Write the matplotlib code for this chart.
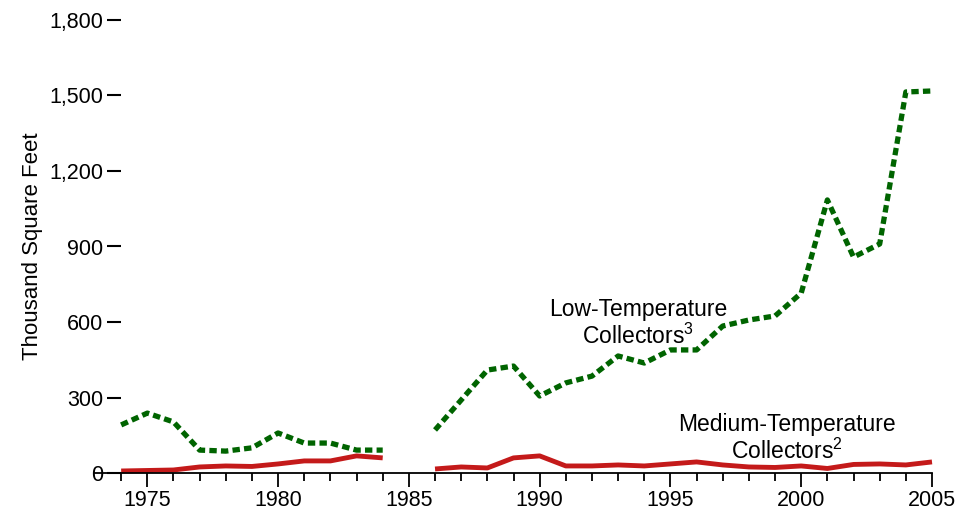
import matplotlib.pyplot as plt
import numpy as np

plt.rcParams['font.family'] = ['Liberation Sans', 'DejaVu Sans']
plt.rcParams['mathtext.fontset'] = 'custom'
plt.rcParams['mathtext.rm'] = 'Liberation Sans'

years_a = [1974, 1975, 1976, 1977, 1978, 1979, 1980, 1981, 1982, 1983, 1984]
years_b = list(range(1986, 2006))

low_a = [191, 238, 203, 91, 87, 100, 159, 119, 119, 91, 91]
low_b = [171, 290, 409, 425, 306, 358, 385, 465, 437, 489,
         489, 584, 608, 624, 715, 1085, 858, 910, 1514, 1518]

med_a = [8, 10, 12, 24, 28, 26, 36, 48, 48, 68, 60]
med_b = [16, 24, 20, 60, 68, 28, 28, 32, 28, 36,
         44, 32, 24, 22, 28, 18, 34, 36, 32, 44]

yticks = [0, 300, 600, 900, 1200, 1500, 1800]
ytick_labels = ['0', '300', '600', '900', '1,200', '1,500', '1,800']
xticks = [1975, 1980, 1985, 1990, 1995, 2000, 2005]

green = '#006400'
red = '#c41a1a'

fig = plt.figure(figsize=(9.58, 5.11), dpi=100)
ax = fig.add_axes([95 / 958, 38 / 511, (932 - 95) / 958, (473 - 20) / 511])

for yrs, vals in [(years_a, low_a), (years_b, low_b)]:
    ax.plot(yrs, vals, color=green, lw=3.8, linestyle=(0, (1.4, 0.8)),
            dash_capstyle='butt', solid_joinstyle='round', clip_on=False)
for yrs, vals in [(years_a, med_a), (years_b, med_b)]:
    ax.plot(yrs, vals, color=red, lw=3.5, solid_capstyle='butt',
            solid_joinstyle='round', clip_on=False)

ax.set_xlim(1973, 2005)
ax.set_ylim(0, 1800)

for s in ['top', 'right']:
    ax.spines[s].set_visible(False)
ax.spines['left'].set_position(('data', 1974))
ax.spines['left'].set_visible(False)
ax.spines['bottom'].set_linewidth(1.3)

ax.set_yticks(yticks)
ax.set_yticklabels(ytick_labels)
ax.set_xticks(xticks)
ax.set_xticks(range(1974, 2006), minor=True)
ax.tick_params(axis='y', length=10, width=1.5, direction='out', labelsize=15.5, pad=3)
ax.tick_params(axis='x', which='major', length=10, width=1.3, labelsize=15.5, pad=2)
ax.tick_params(axis='x', which='minor', length=6, width=1.3)

ax.set_ylabel('Thousand Square Feet', fontsize=16)
ax.yaxis.set_label_coords(-0.062, 0.5)

ax.text(1993.76, 594, 'Low-Temperature\nCollectors$^{\\mathregular{3}}$', ha='center', va='center',
        fontsize=16.5, linespacing=1.1)
ax.text(1999.45, 137, 'Medium-Temperature\nCollectors$^{\\mathregular{2}}$', ha='center', va='center',
        fontsize=16.5, linespacing=1.1)

fig.savefig('out.png', dpi=100)
